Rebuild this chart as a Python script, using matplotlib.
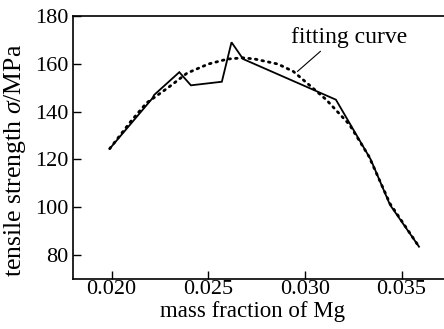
import matplotlib
matplotlib.use("Agg")
import matplotlib.pyplot as plt

# measured data (solid line)
mg_meas = [0.0199, 0.0221, 0.0222, 0.0235, 0.0241, 0.0257, 0.0262, 0.0268, 0.0316, 0.0334, 0.0344, 0.0359]
sigma_meas = [124.5, 145.5, 147.0, 156.5, 151.0, 152.5, 169.0, 162.0, 145.0, 120.0, 101.0, 83.5]

# fitting curve (dotted)
mg_fit = [0.0199, 0.0210, 0.0218, 0.0229, 0.0239, 0.0250, 0.0260, 0.0268, 0.0274, 0.0286,
          0.0294, 0.0304, 0.0311, 0.0323, 0.0333, 0.0344, 0.0359]
sigma_fit = [124.5, 136.0, 143.6, 149.9, 156.1, 159.9, 162.0, 162.5, 162.0, 159.9,
             156.8, 149.9, 145.0, 134.6, 121.4, 101.5, 83.5]

xticks = [0.020, 0.025, 0.030, 0.035]
xticklabels = ["0.020", "0.025", "0.030", "0.035"]
yticks = [80, 100, 120, 140, 160, 180]

plt.rcParams["font.family"] = ["Liberation Serif", "DejaVu Serif"]
plt.rcParams["mathtext.fontset"] = "custom"
plt.rcParams["mathtext.rm"] = "Liberation Serif"
plt.rcParams["mathtext.it"] = "Liberation Serif:italic"

fig = plt.figure(figsize=(4.44, 3.29), dpi=100)
ax = fig.add_axes([0.1644, 0.152, 0.849, 0.7994])

ax.plot(mg_meas, sigma_meas, color="black", lw=1.3, solid_joinstyle="miter")
ax.plot(mg_fit, sigma_fit, color="black", lw=2.0, linestyle=(0, (0.6, 1.8)),
        dash_capstyle="round")

ax.set_xlim(0.018, 0.0375)
ax.set_ylim(70, 180)
ax.set_xticks(xticks)
ax.set_xticklabels(xticklabels)
ax.set_yticks(yticks)
ax.tick_params(direction="in", length=5.5, width=1.0, labelsize=16)
ax.tick_params(axis="y", pad=3)
ax.tick_params(axis="x", pad=0.5)
for s in ax.spines.values():
    s.set_linewidth(1.2)
ax.spines["right"].set_visible(False)

ax.set_xlabel("mass fraction of Mg", fontsize=16.5)
ax.xaxis.set_label_coords(0.475, -0.082)
ax.set_ylabel(r"tensile strength $\it{\sigma}$/MPa", fontsize=18.5)
ax.yaxis.set_label_coords(-0.12, 0.45)

ax.annotate("fitting curve", xy=(0.02961, 156.8), xytext=(0.03229, 168.5),
            fontsize=17, ha="center", va="baseline",
            arrowprops=dict(arrowstyle="-", color="black", lw=0.8,
                            shrinkA=0, shrinkB=0,
                            relpos=(0.28, 0.0)))

fig.savefig("out.png", dpi=100)
